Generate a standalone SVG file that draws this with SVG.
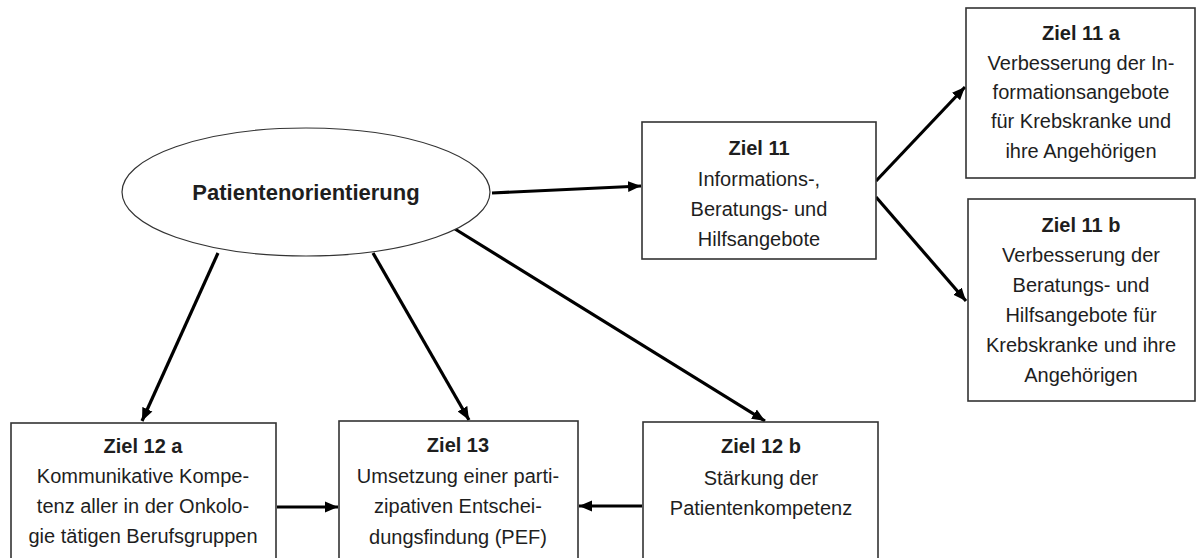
<svg xmlns="http://www.w3.org/2000/svg" width="1199" height="558" viewBox="0 0 1199 558">
<defs>
<style>
.box{fill:#fff;stroke:#333;stroke-width:1.6}
.ell{fill:#fff;stroke:#333;stroke-width:1.2}
text{font-family:"Liberation Sans",Arial,sans-serif;font-size:20px;fill:#1e1e1e;text-anchor:middle}
.h{font-weight:bold}
.big{font-weight:bold;font-size:22px}
.con{stroke:#000;stroke-width:3.2;fill:none;marker-end:url(#ah)}
</style>
<marker id="ah" markerUnits="userSpaceOnUse" markerWidth="14" markerHeight="12" viewBox="0 0 14 12" refX="13" refY="6" orient="auto">
<path d="M0,0.5 L13,6 L0,11.5 Z" fill="#000"/>
</marker>
</defs>
<rect width="1199" height="558" fill="#fff"/>

<g id="connectors">
<line class="con" x1="492" y1="193" x2="641" y2="186"/>
<line class="con" x1="876" y1="181" x2="965" y2="87"/>
<line class="con" x1="876" y1="197" x2="966" y2="301"/>
<line class="con" x1="218" y1="253" x2="142" y2="421"/>
<line class="con" x1="373" y1="253" x2="469" y2="420"/>
<line class="con" x1="455" y1="229" x2="765" y2="421"/>
<line class="con" x1="277" y1="507" x2="338" y2="507"/>
<line class="con" x1="642" y1="506" x2="579" y2="506"/>
</g>

<g id="patientenorientierung">
<ellipse class="ell" cx="306" cy="192" rx="184" ry="64"/>
<text class="big" x="306" y="200">Patientenorientierung</text>
</g>

<g id="ziel11">
<rect class="box" x="642" y="122" width="234" height="137"/>
<text class="h" x="759" y="155">Ziel 11</text>
<text x="759" y="186">Informations-,</text>
<text x="759" y="216">Beratungs- und</text>
<text x="759" y="246">Hilfsangebote</text>
</g>

<g id="ziel11a">
<rect class="box" x="966" y="8" width="229" height="170"/>
<text class="h" x="1081" y="40">Ziel 11 a</text>
<text x="1081" y="70">Verbesserung der In-</text>
<text x="1081" y="99">formationsangebote</text>
<text x="1081" y="128">für Krebskranke und</text>
<text x="1081" y="158">ihre Angehörigen</text>
</g>

<g id="ziel11b">
<rect class="box" x="968" y="199" width="227" height="202"/>
<text class="h" x="1081" y="232">Ziel 11 b</text>
<text x="1081" y="262">Verbesserung der</text>
<text x="1081" y="292">Beratungs- und</text>
<text x="1081" y="322">Hilfsangebote für</text>
<text x="1081" y="352">Krebskranke und ihre</text>
<text x="1081" y="382">Angehörigen</text>
</g>

<g id="ziel12a">
<rect class="box" x="11" y="423" width="265" height="140"/>
<text class="h" x="143" y="453">Ziel 12 a</text>
<text x="143" y="483">Kommunikative Kompe-</text>
<text x="143" y="513">tenz aller in der Onkolo-</text>
<text x="143" y="543">gie tätigen Berufsgruppen</text>
</g>

<g id="ziel13">
<rect class="box" x="339" y="421" width="239" height="142"/>
<text class="h" x="458" y="452">Ziel 13</text>
<text x="458" y="483">Umsetzung einer parti-</text>
<text x="458" y="513">zipativen Entschei-</text>
<text x="458" y="544">dungsfindung (PEF)</text>
</g>

<g id="ziel12b">
<rect class="box" x="643" y="422" width="235" height="141"/>
<text class="h" x="761" y="453">Ziel 12 b</text>
<text x="761" y="485">Stärkung der</text>
<text x="761" y="515">Patientenkompetenz</text>
</g>
</svg>
